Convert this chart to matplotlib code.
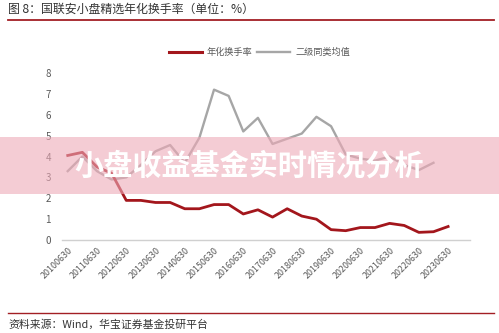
import matplotlib
matplotlib.use("Agg")
import matplotlib.pyplot as plt
from matplotlib.patches import Rectangle
from matplotlib.lines import Line2D

plt.rcParams['font.family'] = ['Noto Sans CJK SC', 'DejaVu Sans']

# semi-annual report dates
dates = [f"{y}{m}" for y in range(2010, 2024) for m in ("0630", "1231")][:27]
tick_labels = [d for d in dates if d.endswith("0630")]

# annualised turnover of the fund
turnover = [4.05, 4.2, 3.5, 3.2, 1.9, 1.9, 1.8, 1.8, 1.5, 1.5, 1.7, 1.7, 1.25, 1.45,
            1.1, 1.5, 1.15, 1.0, 0.5, 0.45, 0.6, 0.6, 0.8, 0.7, 0.37, 0.4, 0.65]
# peer group average (ends one period earlier)
peer_avg = [3.3, 4.0, 3.3, 2.9, 3.0, 3.6, 4.25, 4.55, 3.7, 4.9, 7.2, 6.9, 5.2, 5.85,
            4.6, 4.85, 5.1, 5.9, 5.45, 4.1, 3.9, 3.8, 4.0, 3.6, 3.35, 3.7]

red = '#a3161c'
grey = '#a6a6a6'
txt = '#595959'

fig = plt.figure(figsize=(4.99, 3.33), dpi=100)
ax = fig.add_axes([0.124, 0.279, 0.818, 0.502])

x_turn = list(range(len(turnover)))
x_peer = list(range(len(peer_avg)))
ax.plot(x_turn, turnover, color=red, lw=2.0, zorder=3)
ax.plot(x_peer, peer_avg, color=grey, lw=1.7, zorder=2)

ax.set_xlim(-0.4, 27.5)
ax.set_ylim(0, 8)
ax.set_yticks(range(0, 9))
ax.set_xticks([i for i, d in enumerate(dates) if d.endswith("0630")])
ax.set_xticklabels(tick_labels, rotation=45, ha='right', rotation_mode='anchor',
                   fontsize=6.4, color=txt)
ax.tick_params(axis='y', length=0, labelsize=7, labelcolor=txt, pad=8)
ax.tick_params(axis='x', length=0, pad=4)
for s in ['top', 'right', 'left']:
    ax.spines[s].set_visible(False)
ax.spines['bottom'].set_color('#d0d0d0')
ax.spines['bottom'].set_linewidth(1.0)

handles = [Line2D([], [], color=red, lw=2.2), Line2D([], [], color=grey, lw=1.7)]
fig.legend(handles, ['年化换手率', '二级同类均值'], loc='center', bbox_to_anchor=(0.52, 0.843),
           ncol=2, frameon=False, fontsize=6.6, labelcolor=txt, handlelength=3.6,
           columnspacing=0.5, handletextpad=0.6)

# header / footer
fig.text(0.016, 1 - 9 / 333, '图 8：国联安小盘精选年化换手率（单位：%）', fontsize=8.6,
         color='#333333', va='center', ha='left')
fig.add_artist(Line2D([0.016, 0.99], [0.94, 0.94], color='#a31f24', lw=1.3))
fig.add_artist(Line2D([0.016, 0.99], [0.06, 0.06], color='#a31f24', lw=1.0))
fig.text(0.016, 0.025, '资料来源：Wind，华宝证券基金投研平台', fontsize=7.8,
         color='#333333', va='center', ha='left')

# pink banner across the chart
fig.add_artist(Rectangle((0, 1 - 194 / 333), 1, 57 / 333, transform=fig.transFigure,
                         facecolor='#eeaab8', alpha=0.6, edgecolor='none', zorder=5))
fig.text(0.5, 1 - 166 / 333, '小盘收益基金实时情况分析', fontsize=21, fontweight='heavy',
         color='white', ha='center', va='center', zorder=6)

fig.savefig('out.png', dpi=100)
